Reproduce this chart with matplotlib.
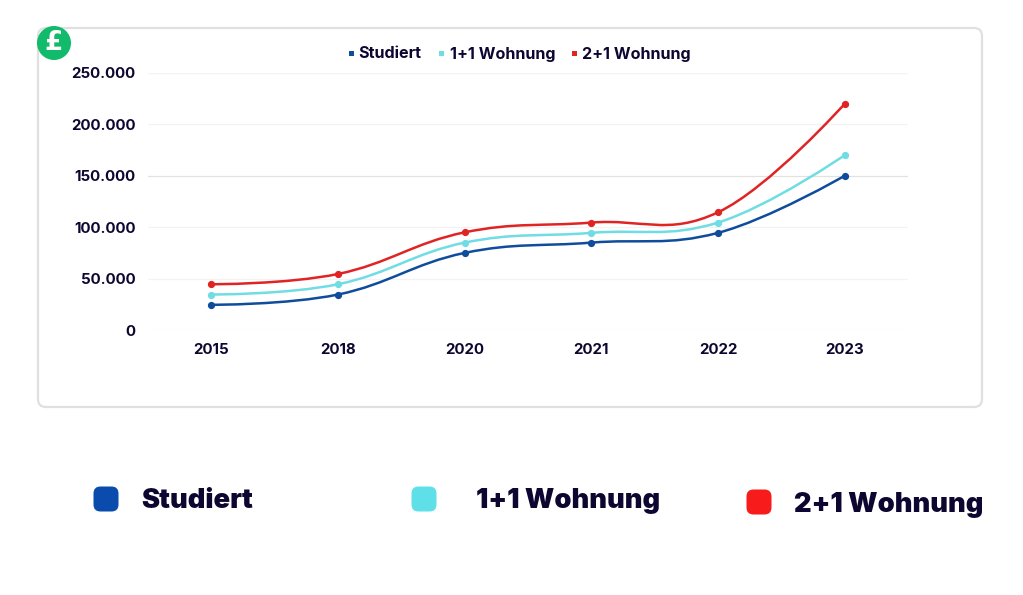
import matplotlib
matplotlib.use("Agg")
import matplotlib.pyplot as plt
from matplotlib.patches import Circle, FancyBboxPatch, PathPatch, Rectangle
from matplotlib.path import Path

plt.rcParams["font.family"] = ["Inter", "DejaVu Sans"]

years = ["2015", "2018", "2020", "2021", "2022", "2023"]
studiert = [24500, 34500, 75000, 85000, 94500, 150000]
wohnung_1 = [34500, 44500, 85000, 94500, 104500, 170000]
wohnung_2 = [44500, 54500, 95000, 104500, 114500, 220000]
y_ticks = [0, 50000, 100000, 150000, 200000, 250000]
names = ["Studiert", "1+1 Wohnung", "2+1 Wohnung"]
line_colors = ["#0f4c9c", "#6fdde3", "#e02424"]
swatch_colors = ["#0a4bad", "#5fe0e8", "#f81b1b"]
dark = "#0d0630"

W, H = 1023, 595


def spline_path(xs, ys, smoothing=1.5):
    # same control point rule as highcharts splines
    verts = [(xs[0], ys[0])]
    codes = [Path.MOVETO]
    n = len(xs)
    ctrl = []
    for i in range(n):
        if i == 0 or i == n - 1:
            ctrl.append(((xs[i], ys[i]), (xs[i], ys[i])))
            continue
        d = smoothing + 1
        lx = (smoothing * xs[i] + xs[i - 1]) / d
        ly = (smoothing * ys[i] + ys[i - 1]) / d
        rx = (smoothing * xs[i] + xs[i + 1]) / d
        ry = (smoothing * ys[i] + ys[i + 1]) / d
        slope = (ry - ly) / (rx - lx)
        corr = slope * (xs[i] - lx) + ly - ys[i]
        ctrl.append(((lx, ly - corr), (rx, ry - corr)))
    for i in range(1, n):
        verts += [ctrl[i - 1][1], ctrl[i][0], (xs[i], ys[i])]
        codes += [Path.CURVE4, Path.CURVE4, Path.CURVE4]
    return Path(verts, codes)


fig = plt.figure(figsize=(W / 100, H / 100), dpi=100)

# pixel overlay for the card, badge and the legends
bg = fig.add_axes([0, 0, 1, 1], zorder=0)
bg.set_xlim(0, W)
bg.set_ylim(H, 0)
bg.axis("off")
bg.add_patch(FancyBboxPatch((38, 28), 944, 379, boxstyle="round,pad=0,rounding_size=8",
                            fc="white", ec="#e0e0e0", lw=1.6))

ax = fig.add_axes([148 / W, 1 - 330 / H, 760 / W, 257 / H], zorder=1)
ax.patch.set_alpha(0)
x = list(range(len(years)))
for vals, c in zip([studiert, wohnung_1, wohnung_2], line_colors):
    ax.add_patch(PathPatch(spline_path(x, vals), fc="none", ec=c, lw=1.8, zorder=3))
    ax.plot(x, vals, ls="none", marker="o", ms=4.2, color=c, zorder=4, clip_on=False)
ax.set_xlim(-0.5, 5.5)
ax.set_ylim(0, 250000)
ax.set_xticks(x, years)
ax.set_yticks(y_ticks, [f"{v:,}".replace(",", ".") for v in y_ticks])
ax.tick_params(length=0, labelsize=10.8, labelcolor=dark)
ax.tick_params(axis="x", pad=9)
ax.tick_params(axis="y", pad=9)
for lab in ax.get_xticklabels() + ax.get_yticklabels():
    lab.set_fontweight("bold")
ax.grid(axis="y", color="#f3f3f3", lw=0.9)
for gl, v in zip(ax.get_ygridlines(), y_ticks):
    if v == 150000:
        gl.set_color("#e2e2e2")
for s in ax.spines.values():
    s.set_visible(False)

# pound badge
bg.add_patch(Circle((54, 43), 17, fc="#12bb6b", ec="none", zorder=5))
bg.text(54, 43.5, "£", color="white", fontsize=19, fontweight="bold",
        family="DejaVu Sans", ha="center", va="center", zorder=6)

# top legend
for mx, tx, name, c in zip([351, 441, 574], [359, 450, 583], names, line_colors):
    bg.add_patch(Rectangle((mx - 2.5, 51), 5, 5, fc=c, ec="none", zorder=3))
    bg.text(tx - 0.5, 58.5, name, fontsize=11.6, fontweight="bold", color=dark,
            va="baseline", zorder=3)

# bottom legend
for sx, sy, tx, name, c in zip([106, 424, 759], [499, 499, 502], [141, 476, 794],
                               names, swatch_colors):
    bg.add_patch(FancyBboxPatch((sx - 12.5, sy - 12.5), 25, 25,
                                boxstyle="round,pad=0,rounding_size=7", fc=c, ec="none"))
    bg.text(tx, sy + 9.5, name, fontsize=19.6, fontweight="black", color=dark, va="baseline")

fig.savefig("out.png", dpi=100)
